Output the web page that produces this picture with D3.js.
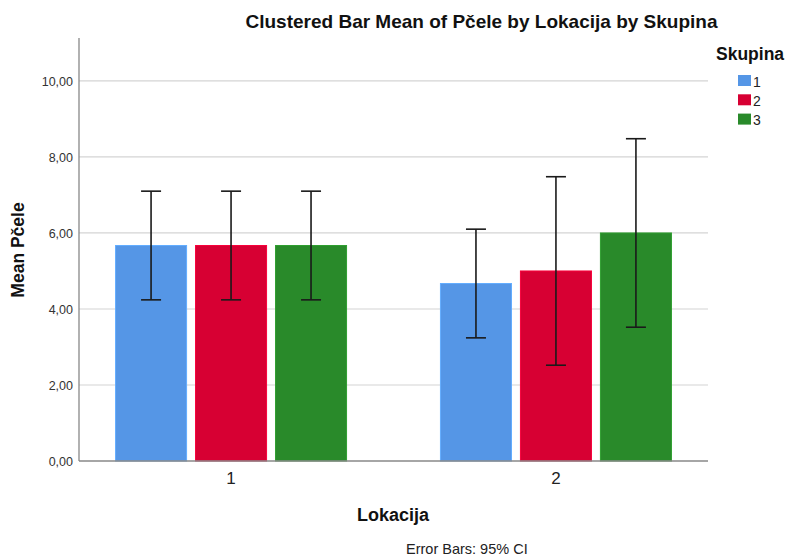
<!DOCTYPE html>
<html><head><meta charset="utf-8">
<script src="https://cdn.jsdelivr.net/npm/d3@7"></script>
<style>body{margin:0;background:#fff;} svg{display:block;font-family:Arial,"Liberation Sans",sans-serif;}</style>
</head><body>
<svg id="c" width="789" height="556"></svg>
<script>
const locations = ["1","2"];
const groups = ["1","2","3"];
const means = {"1":[5.67,5.67,5.67],"2":[4.67,5.00,6.00]};
const ciLow = {"1":[4.24,4.24,4.24],"2":[3.24,2.52,3.52]};
const ciHigh = {"1":[7.10,7.10,7.10],"2":[6.10,7.48,8.48]};
const yTicks = [0,2,4,6,8,10];
const colors = ["#5596e6","#d70033","#298a2a"];

const svg = d3.select("#c");
const L=79, R=708, T=38, B=461;
const y = d3.scaleLinear().domain([0,11.13]).range([B,T]);
const x0 = d3.scalePoint().domain(locations).range([L,R]).padding(0.468);
const x1 = d3.scaleBand().domain(groups).range([-115.5,115.5]).paddingInner(0.112).paddingOuter(0);

// grid
svg.append("g").selectAll("line").data(yTicks.filter(d=>d>0)).join("line")
  .attr("x1",L).attr("x2",R).attr("y1",d=>y(d)).attr("y2",d=>y(d))
  .attr("stroke","#d4d4d4").attr("stroke-width",1.2);

// y tick labels
svg.append("g").selectAll("text").data(yTicks).join("text")
  .attr("x",L-6).attr("y",d=>y(d)+5).attr("text-anchor","end")
  .attr("font-size",12.5).attr("fill","#333")
  .text(d=>d3.format(".2f")(d).replace(".",","));

// bars
const rows=[];
locations.forEach(l=>groups.forEach((g,i)=>rows.push({l,g,i,m:means[l][i],lo:ciLow[l][i],hi:ciHigh[l][i]})));
svg.append("g").selectAll("rect").data(rows).join("rect")
  .attr("x",d=>x0(d.l)+x1(d.g)).attr("width",x1.bandwidth())
  .attr("y",d=>y(d.m)).attr("height",d=>B-y(d.m))
  .attr("fill",d=>colors[d.i]).attr("stroke",d=>d3.color(colors[d.i]).brighter(0.4)).attr("stroke-width",1);

// error bars
const eb = svg.append("g").attr("stroke","#1a1a1a").attr("stroke-width",1.6);
rows.forEach(d=>{
  const cx = x0(d.l)+x1(d.g)+x1.bandwidth()/2;
  eb.append("line").attr("x1",cx).attr("x2",cx).attr("y1",y(d.hi)).attr("y2",y(d.lo));
  eb.append("line").attr("x1",cx-10).attr("x2",cx+10).attr("y1",y(d.hi)).attr("y2",y(d.hi));
  eb.append("line").attr("x1",cx-10).attr("x2",cx+10).attr("y1",y(d.lo)).attr("y2",y(d.lo));
});

// axes
svg.append("line").attr("x1",L).attr("x2",L).attr("y1",T).attr("y2",B).attr("stroke","#888").attr("stroke-width",1.3);
svg.append("line").attr("x1",L).attr("x2",R).attr("y1",B).attr("y2",B).attr("stroke","#888").attr("stroke-width",1.3);

// x tick labels
svg.append("g").selectAll("text").data(locations).join("text")
  .attr("x",d=>x0(d)).attr("y",484).attr("text-anchor","middle")
  .attr("font-size",17).attr("fill","#222").text(d=>d);

// titles
svg.append("text").attr("x",481.5).attr("y",28).attr("text-anchor","middle")
  .attr("font-size",19).attr("font-weight","bold").attr("fill","#111")
  .text("Clustered Bar Mean of Pčele by Lokacija by Skupina");
svg.append("text").attr("x",393).attr("y",521).attr("text-anchor","middle")
  .attr("font-size",18).attr("font-weight","bold").attr("fill","#111").text("Lokacija");
svg.append("text").attr("transform","translate(24,250) rotate(-90)").attr("text-anchor","middle")
  .attr("font-size",17.5).attr("font-weight","bold").attr("fill","#111").text("Mean Pčele");
svg.append("text").attr("x",406).attr("y",554).attr("font-size",14.5).attr("fill","#222").text("Error Bars: 95% CI");

// legend
svg.append("text").attr("x",716).attr("y",60).attr("font-size",17.5).attr("font-weight","bold").attr("fill","#111").text("Skupina");
const lg = svg.append("g").selectAll("g").data(groups).join("g")
  .attr("transform",(d,i)=>`translate(738,${75+i*19.3})`);
lg.append("rect").attr("width",13).attr("height",11).attr("fill",(d,i)=>colors[i]);
lg.append("text").attr("x",15).attr("y",11.5).attr("font-size",14).attr("fill","#222").text(d=>d);
</script>
</body></html>
